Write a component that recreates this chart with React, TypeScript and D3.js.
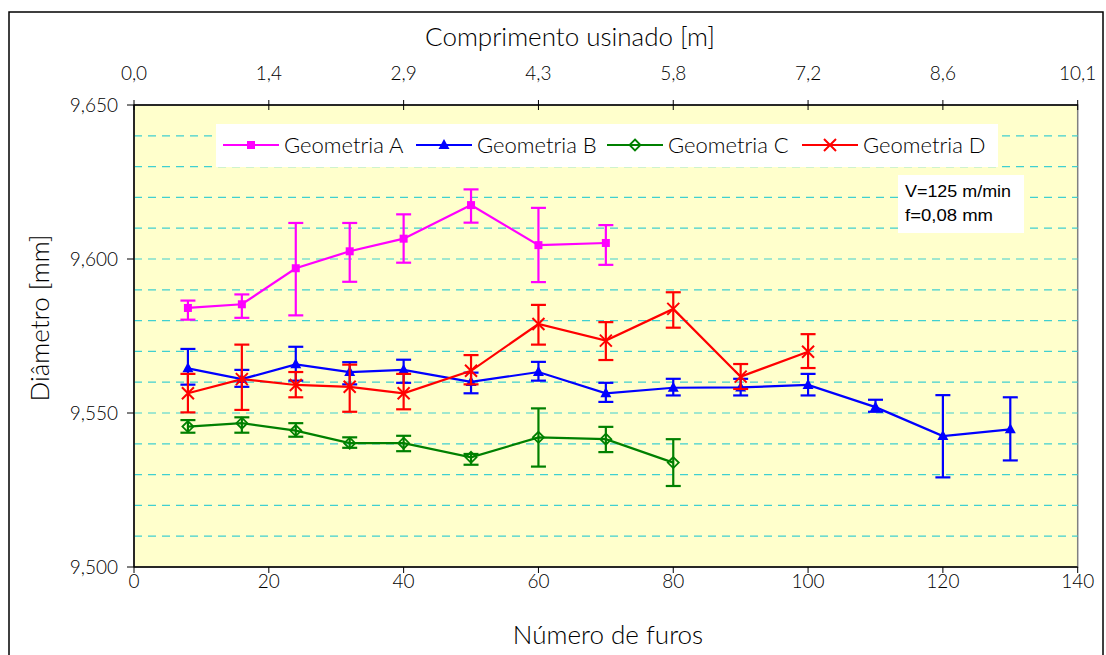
import React from "react";
import * as d3 from "d3";

// ---------- data ----------
const xA = [8, 16, 24, 32, 40, 50, 60, 70];
const meanA = [9.5841, 9.5853, 9.597, 9.6025, 9.6066, 9.6175, 9.6045, 9.6052];
const hiA = [9.5865, 9.5885, 9.6117, 9.6117, 9.6145, 9.6226, 9.6166, 9.611];
const loA = [9.5803, 9.5809, 9.5817, 9.5926, 9.5988, 9.6118, 9.5925, 9.5981];

const xB = [8, 16, 24, 32, 40, 50, 60, 70, 80, 90, 100, 110, 120, 130];
const meanB = [9.5645, 9.561, 9.5658, 9.5633, 9.564, 9.5601, 9.5633, 9.5564, 9.5582, 9.5583, 9.5591, 9.5519, 9.5425, 9.5447];
const hiB = [9.5708, 9.564, 9.5715, 9.5665, 9.5673, 9.5631, 9.5666, 9.5598, 9.5611, 9.5611, 9.5627, 9.5543, 9.5558, 9.5551];
const loB = [9.5592, 9.5585, 9.5605, 9.5593, 9.5598, 9.5564, 9.5605, 9.5536, 9.5557, 9.5557, 9.5557, 9.5504, 9.5291, 9.5346];

const xC = [8, 16, 24, 32, 40, 50, 60, 70, 80];
const meanC = [9.5456, 9.5467, 9.5443, 9.5402, 9.5402, 9.5356, 9.5421, 9.5415, 9.5339];
const hiC = [9.5477, 9.5486, 9.5467, 9.5421, 9.5426, 9.5367, 9.5515, 9.5455, 9.5415];
const loC = [9.5436, 9.5436, 9.5423, 9.5387, 9.5376, 9.5332, 9.5326, 9.5373, 9.5263];

const xD = [8, 16, 24, 32, 40, 50, 60, 70, 80, 90, 100];
const meanD = [9.5564, 9.561, 9.5591, 9.5585, 9.5564, 9.5637, 9.5789, 9.5735, 9.5838, 9.5618, 9.5699];
const hiD = [9.5627, 9.5722, 9.5633, 9.5657, 9.5627, 9.5688, 9.5851, 9.5795, 9.5892, 9.5659, 9.5756];
const loD = [9.5502, 9.551, 9.5551, 9.5504, 9.5512, 9.5593, 9.5722, 9.5672, 9.5777, 9.5578, 9.5646];

const seriesNames = ["Geometria A", "Geometria B", "Geometria C", "Geometria D"];
const bottomTicks = [0, 20, 40, 60, 80, 100, 120, 140];
const topTicks = [0, 1.44, 2.88, 4.32, 5.76, 7.2, 8.64, 10.08];
const yTicks = [9.5, 9.55, 9.6, 9.65];
const yGrid = [9.51, 9.52, 9.53, 9.54, 9.55, 9.56, 9.57, 9.58, 9.59, 9.6, 9.61, 9.62, 9.63, 9.64];
const noteLines = ["V=125 m/min", "f=0,08 mm"];

// ---------- layout ----------
const W = 1106;
const H = 655;
const L = 134, R = 1077.7, T = 105, B = 567;
const FONT = "Lato, 'Open Sans', sans-serif";
const FW = 300;

const x = d3.scaleLinear().domain([0, 140]).range([L, R]);
const xTop = d3.scaleLinear().domain([0, 10.08]).range([L, R]);
const y = d3.scaleLinear().domain([9.5, 9.65]).range([B, T]);

const fmtComma = (v: number, d: number) => v.toFixed(d).replace(".", ",");

type Series = { name: string; xs: number[]; mean: number[]; hi: number[]; lo: number[]; color: string; marker: string };
const series: Series[] = [
  { name: seriesNames[0], xs: xA, mean: meanA, hi: hiA, lo: loA, color: "#FF00FF", marker: "square" },
  { name: seriesNames[1], xs: xB, mean: meanB, hi: hiB, lo: loB, color: "#0000FF", marker: "triangle" },
  { name: seriesNames[2], xs: xC, mean: meanC, hi: hiC, lo: loC, color: "#008000", marker: "diamond" },
  { name: seriesNames[3], xs: xD, mean: meanD, hi: hiD, lo: loD, color: "#FF0000", marker: "x" },
];

function Marker({ type, cx, cy, color }: { type: string; cx: number; cy: number; color: string }) {
  if (type === "square") {
    return <rect x={cx - 4} y={cy - 4} width={8} height={8} fill={color} />;
  }
  if (type === "triangle") {
    return <path d={`M${cx},${cy - 6}L${cx + 5.5},${cy + 4}L${cx - 5.5},${cy + 4}Z`} fill={color} />;
  }
  if (type === "diamond") {
    return (
      <path d={`M${cx},${cy - 5.5}L${cx + 5.5},${cy}L${cx},${cy + 5.5}L${cx - 5.5},${cy}Z`} fill="none" stroke={color} strokeWidth={1.8} />
    );
  }
  return (
    <path d={`M${cx - 6},${cy - 6}L${cx + 6},${cy + 6}M${cx - 6},${cy + 6}L${cx + 6},${cy - 6}`} stroke={color} strokeWidth={2} />
  );
}

export default function App() {
  const line = d3
    .line<[number, number]>()
    .x((d) => x(d[0]))
    .y((d) => y(d[1]));

  const legendX = [251, 444, 635, 830];
  const legendY = 145;
  const noteWidths = [106, 88];

  return (
    <svg width={W} height={H} style={{ position: "absolute", left: 0, top: 0, background: "#fff" }} fontFamily={FONT} fontWeight={FW}>
      {/* outer border */}
      <rect x={9} y={12} width={1094} height={700} fill="#fff" stroke="#000" strokeWidth={1.5} />
      {/* plot area */}
      <rect x={L} y={T} width={R - L} height={B - T} fill="#FFFFCC" stroke="#808080" strokeWidth={1.5} />
      {/* gridlines */}
      {yGrid.map((g) => (
        <line key={g} x1={L} x2={R} y1={y(g)} y2={y(g)} stroke="#40D0D0" strokeWidth={1.2} strokeDasharray="8,6" />
      ))}
      {/* axes */}
      <line x1={L} x2={L} y1={T} y2={B} stroke="#000" strokeWidth={1.5} />
      <line x1={L} x2={R} y1={B} y2={B} stroke="#000" strokeWidth={1.5} />
      <line x1={L} x2={R} y1={T} y2={T} stroke="#000" strokeWidth={1.5} />
      {yTicks.map((t) => (
        <g key={t}>
          <line x1={L - 7} x2={L} y1={y(t)} y2={y(t)} stroke="#000" strokeWidth={1} />
          <text x={L - 16} y={y(t)} dy="0.35em" textAnchor="end" fontSize={19} fill="#000">
            {fmtComma(t, 3)}
          </text>
        </g>
      ))}
      {bottomTicks.map((t) => (
        <g key={t}>
          <line x1={x(t)} x2={x(t)} y1={B} y2={B + 6} stroke="#000" strokeWidth={1} />
          <text x={x(t)} y={B + 14} dy="0.35em" textAnchor="middle" fontSize={19} fill="#000">
            {t}
          </text>
        </g>
      ))}
      {topTicks.map((t) => (
        <g key={t}>
          <line x1={xTop(t)} x2={xTop(t)} y1={T - 5} y2={T + 5} stroke="#000" strokeWidth={1} />
          <text x={xTop(t)} y={T - 32} dy="0.35em" textAnchor="middle" fontSize={19} fill="#000">
            {fmtComma(t, 1)}
          </text>
        </g>
      ))}
      {/* axis titles */}
      <text x={570} y={37} dy="0.35em" textAnchor="middle" fontSize={26} fill="#000">
        Comprimento usinado [m]
      </text>
      <text x={608} y={635} dy="0.35em" textAnchor="middle" fontSize={26} fill="#000">
        Número de furos
      </text>
      <text transform={`translate(40,318) rotate(-90)`} dy="0.35em" textAnchor="middle" fontSize={26} fill="#000">
        Diâmetro [mm]
      </text>

      {/* legend */}
      <rect x={216} y={124} width={782} height={43} fill="#fff" />
      {series.map((s, i) => (
        <g key={s.name}>
          <line x1={legendX[i] - 28} x2={legendX[i] + 28} y1={legendY} y2={legendY} stroke={s.color} strokeWidth={2} />
          <Marker type={s.marker} cx={legendX[i]} cy={legendY} color={s.color} />
          <text x={legendX[i] + 33} y={legendY} dy="0.35em" fontSize={22} fill="#000">
            {s.name}
          </text>
        </g>
      ))}

      {/* annotation */}
      <rect x={898} y={175} width={126} height={58} fill="#fff" />
      {noteLines.map((l, i) => (
        <text
          key={l}
          x={905}
          y={197 + i * 24}
          fontSize={16}
          fontWeight={400}
          textLength={noteWidths[i]}
          lengthAdjust="spacingAndGlyphs"
          fontFamily="'Liberation Sans', Arial, sans-serif"
          fill="#000"
        >
          {l}
        </text>
      ))}

      {/* series */}
      {series.map((s) => {
        const pts: [number, number][] = s.xs.map((xv, i) => [xv, s.mean[i]]);
        return (
          <g key={s.name}>
            {s.xs.map((xv, i) => (
              <g key={i} stroke={s.color} strokeWidth={2.2}>
                <line x1={x(xv)} x2={x(xv)} y1={y(s.hi[i])} y2={y(s.lo[i])} />
                <line x1={x(xv) - 7.5} x2={x(xv) + 7.5} y1={y(s.hi[i])} y2={y(s.hi[i])} />
                <line x1={x(xv) - 7.5} x2={x(xv) + 7.5} y1={y(s.lo[i])} y2={y(s.lo[i])} />
              </g>
            ))}
            <path d={line(pts) || ""} fill="none" stroke={s.color} strokeWidth={2.2} />
            {pts.map((p, i) => (
              <Marker key={i} type={s.marker} cx={x(p[0])} cy={y(p[1])} color={s.color} />
            ))}
          </g>
        );
      })}
    </svg>
  );
}
